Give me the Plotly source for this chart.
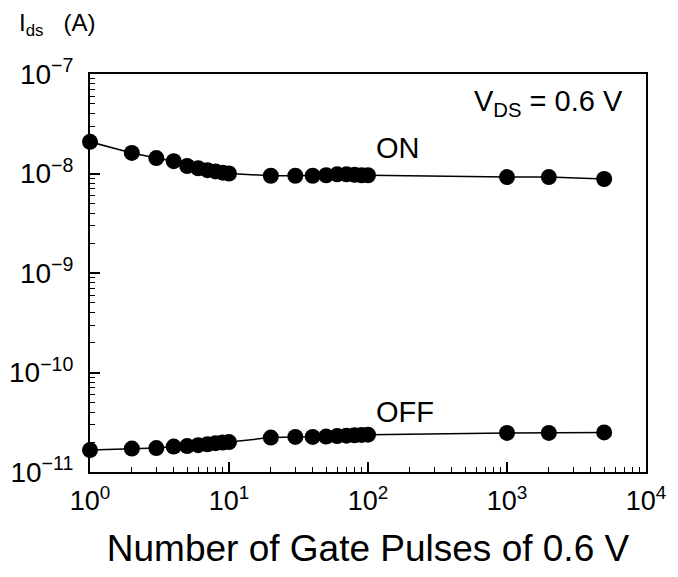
import plotly.graph_objects as go

pulses = [1, 2, 3, 4, 5, 6, 7, 8, 9, 10, 20, 30, 40, 50, 60, 70, 80, 90, 100, 1000, 2000, 5000]
ids_on = [2.08e-8, 1.61e-8, 1.43e-8, 1.33e-8, 1.19e-8, 1.13e-8, 1.08e-8, 1.05e-8, 1.02e-8, 1.0e-8,
          9.5e-9, 9.5e-9, 9.5e-9, 9.6e-9, 9.8e-9, 9.8e-9, 9.7e-9, 9.6e-9, 9.6e-9, 9.2e-9, 9.2e-9, 8.8e-9]
ids_off = [1.66e-11, 1.72e-11, 1.74e-11, 1.80e-11, 1.82e-11, 1.86e-11, 1.90e-11, 1.95e-11, 1.98e-11, 2.0e-11,
           2.22e-11, 2.25e-11, 2.25e-11, 2.27e-11, 2.30e-11, 2.32e-11, 2.34e-11, 2.36e-11, 2.37e-11,
           2.47e-11, 2.47e-11, 2.50e-11]

x_tickvals = [1, 10, 100, 1000, 10000]
x_ticktext = ["10<sup>0</sup>", "10<sup>1</sup>", "10<sup>2</sup>", "10<sup>3</sup>", "10<sup>4</sup>"]
y_tickvals = [1e-11, 1e-10, 1e-9, 1e-8, 1e-7]
y_ticktext = ["10<sup>−11</sup>", "10<sup>−10</sup>", "10<sup>−9</sup>", "10<sup>−8</sup>", "10<sup>−7</sup>"]

FONT = "Liberation Sans, Arial, sans-serif"

fig = go.Figure()
for ys in (ids_on, ids_off):
    fig.add_trace(go.Scatter(
        x=pulses, y=ys, mode="lines+markers",
        line=dict(color="black", width=1.5),
        marker=dict(color="black", size=16),
        showlegend=False, cliponaxis=False,
    ))

axis_common = dict(
    type="log", showline=True, linecolor="black", linewidth=2, mirror=True,
    ticks="inside", ticklen=10, tickwidth=1.5, tickcolor="black",
    showgrid=False, zeroline=False, automargin=False,
    minor=dict(ticks="inside", ticklen=5, tickwidth=1.2, tickcolor="black",
               showgrid=False, dtick="D1"),
)

fig.update_xaxes(range=[0, 4], tickmode="array", tickvals=x_tickvals, ticktext=x_ticktext,
                 ticklabelstandoff=4, tickfont=dict(family=FONT, size=27, color="black"),
                 **axis_common,
                 title=dict(text="Number of Gate Pulses of 0.6 V",
                            font=dict(family=FONT, size=37, color="black"), standoff=20))
fig.update_yaxes(range=[-11, -7], tickmode="array", tickvals=y_tickvals, ticktext=y_ticktext,
                 ticklabelstandoff=9, tickfont=dict(family=FONT, size=28, color="black"),
                 **axis_common)

fig.add_annotation(text="I<sub>ds</sub>   (A)", xref="paper", yref="paper", x=-0.131, y=1.125,
                   xanchor="left", yanchor="middle", showarrow=False,
                   font=dict(family=FONT, size=24, color="black"))
fig.add_annotation(text="V<sub>DS</sub> = 0.6 V", xref="paper", yref="paper", x=0.962, y=0.927,
                   xanchor="right", yanchor="middle", showarrow=False,
                   font=dict(family=FONT, size=29, color="black"))
fig.add_annotation(text="ON", xref="paper", yref="paper", x=0.554, y=0.814,
                   xanchor="center", yanchor="middle", showarrow=False,
                   font=dict(family=FONT, size=29, color="black"))
fig.add_annotation(text="OFF", xref="paper", yref="paper", x=0.567, y=0.151,
                   xanchor="center", yanchor="middle", showarrow=False,
                   font=dict(family=FONT, size=29, color="black"))

fig.update_layout(
    width=670, height=569,
    margin=dict(l=82, r=32, t=66, b=105),
    paper_bgcolor="white", plot_bgcolor="white",
    font=dict(family=FONT, color="black"),
)

fig.write_html("out.html")
